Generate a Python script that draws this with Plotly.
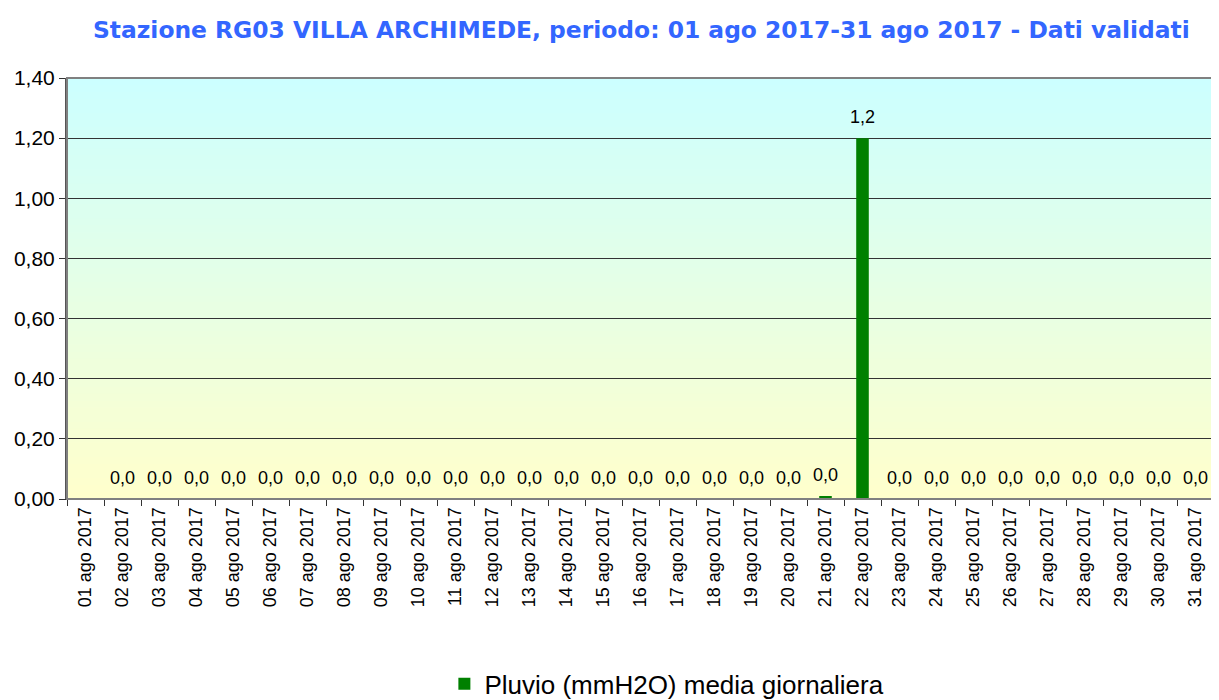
import plotly.graph_objects as go

days = [f"{d:02d} ago 2017" for d in range(1, 32)]
values = [None] + [0.0] * 19 + [0.01, 1.2] + [0.0] * 9

series_name = "Pluvio (mmH2O) media giornaliera"
title_text = "Stazione RG03 VILLA ARCHIMEDE, periodo: 01 ago 2017-31 ago 2017 - Dati validati"
y_ticks = [0, 0.2, 0.4, 0.6, 0.8, 1.0, 1.2, 1.4]

fig = go.Figure()
fig.add_trace(go.Bar(
    x=days, y=values, name=series_name,
    marker=dict(color="#008000", line=dict(width=0)),
    showlegend=True,
))

# data labels above each bar
annotations = []
for d, v in zip(days, values):
    if v is None:
        continue
    annotations.append(dict(x=d, y=v, xref="x", yref="y", text=f"{v:.1f}".replace(".", ","),
                            showarrow=False, yanchor="bottom", yshift=9,
                            font=dict(family="Liberation Sans, Arial", size=18, color="#000000")))

# vertical gradient background (cyan top -> light yellow bottom)
top = (204, 255, 255)
bot = (255, 255, 204)
n = 60
shapes = []
for i in range(n):
    t = i / (n - 1)
    c = tuple(round(bot[k] + (top[k] - bot[k]) * t) for k in range(3))
    shapes.append(dict(type="rect", xref="x domain", yref="y domain",
                       x0=0, x1=1, y0=i / n, y1=(i + 1) / n + 0.002,
                       fillcolor=f"rgb{c}", line=dict(width=0), layer="below"))
shapes.append(dict(type="rect", xref="x domain", yref="y domain", x0=0, x1=1, y0=0, y1=1,
                   line=dict(color="#808080", width=2), fillcolor="rgba(0,0,0,0)", layer="above"))

# page body has an 8px margin: size the figure to fill the rest of the window
fig.update_layout(
    width=1211, height=692,
    margin=dict(l=59, r=5, t=70, b=201, autoexpand=False),
    paper_bgcolor="white", plot_bgcolor="rgba(0,0,0,0)",
    separators=",.",
    bargap=0.66,
    shapes=shapes,
    annotations=annotations,
    title=dict(text="<b>" + title_text + "</b>", x=0.523, xanchor="center", y=0.968, yanchor="middle",
               font=dict(family="DejaVu Sans", size=23.4, color="#3366FF")),
    legend=dict(orientation="h", x=0.523, xanchor="center", y=-0.439, yanchor="middle",
                font=dict(family="Liberation Sans, Arial", size=26, color="#000000"),
                bgcolor="rgba(0,0,0,0)"),
    font=dict(family="Liberation Sans, Arial", color="#000000"),
)
fig.update_yaxes(range=[0, 1.4], tickvals=y_ticks, tickformat=".2f",
                 showgrid=True, gridcolor="#333333", gridwidth=1,
                 ticks="outside", ticklen=6, tickcolor="#333333",
                 showline=True, linecolor="#555555", linewidth=2,
                 tickfont=dict(size=21), zeroline=False, automargin=False)
fig.update_xaxes(tickangle=-90, ticks="outside", ticklen=6, tickcolor="#333333",
                 tickson="boundaries", showline=True, linecolor="#333333", linewidth=1,
                 tickfont=dict(size=18), showgrid=False, automargin=False)

fig.write_html("out.html")
